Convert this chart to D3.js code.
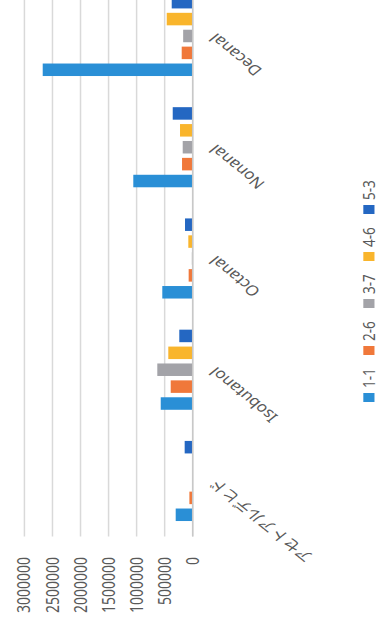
<!DOCTYPE html>
<html>
<head>
<meta charset="utf-8">
<script src="https://cdn.jsdelivr.net/npm/d3@7"></script>
<style>
  body { margin: 0; background: #fff; }
  svg { display: block; }
  text { font-family: "Noto Sans", "Noto Sans CJK JP", sans-serif; fill: #595959; }
</style>
</head>
<body>
<div class="chart"></div>
<script>
var categories = ["アセトアルデヒド", "Isobutanol", "Octanal", "Nonanal", "Decanal"];
var series = ["1-1", "2-6", "3-7", "4-6", "5-3"];
var colors = ["#2a8fd6", "#f0783a", "#a3a3a8", "#f9b52c", "#2467c2"];
// one array per series, in category order
var s11 = [303000, 570000, 542000, 1059000, 2674000];
var s26 = [59000, 392000, 72000, 190000, 196000];
var s37 = [0, 631000, 15000, 178000, 170000];
var s46 = [0, 435000, 78000, 226000, 463000];
var s53 = [143000, 239000, 137000, 356000, 374000];
var yTicks = [0, 500000, 1000000, 1500000, 2000000, 2500000, 3000000];

var values = [s11, s26, s37, s46, s53];
var W = 381, H = 637;
var stretch = 1.24; // picture is wider than it is tall

var svg = d3
    .select(".chart")
    .append("svg")
    .attr("width", W)
    .attr("height", H);

svg.append("rect").attr("width", W).attr("height", H).attr("fill", "#fff");

// chart is drawn upright, then turned on its side
var g = svg
    .append("g")
    .attr("transform", `translate(0,${H}) rotate(-90) scale(1,${stretch})`);

var x0 = d3
    .scaleBand()
    .domain(categories)
    .range([100.4, 100.4 + 111.25 * categories.length]);

var x1 = d3
    .scaleBand()
    .domain(series)
    .range([0, 84.5])
    .paddingInner(0.26)
    .paddingOuter(0.13);

var y = d3.scaleLinear().domain([0, 3000000]).range([155.4, 19.7]);

g.selectAll(".grid")
    .data(yTicks)
    .enter()
    .append("line")
    .attr("class", "grid")
    .attr("x1", x0.range()[0])
    .attr("x2", x0.range()[1])
    .attr("y1", (d) => y(d))
    .attr("y2", (d) => y(d))
    .style("stroke", "#d9d9d9")
    .style("stroke-width", "1.2px");

g.selectAll(".ylab")
    .data(yTicks)
    .enter()
    .append("text")
    .attr("class", "ylab")
    .attr("x", 80)
    .attr("y", (d) => y(d))
    .attr("dy", "0.35em")
    .attr("text-anchor", "end")
    .style("font-size", "14px")
    .text((d) => d);

var groups = g
    .selectAll(".cat")
    .data(categories)
    .enter()
    .append("g")
    .attr("class", "cat")
    .attr(
        "transform",
        (d) => `translate(${x0(d) + (x0.bandwidth() - 84.5) / 2},0)`
    );

groups
    .selectAll("rect")
    .data((d, i) => series.map((s, j) => ({ s: s, v: values[j][i], c: colors[j] })))
    .enter()
    .append("rect")
    .attr("x", (d) => x1(d.s))
    .attr("y", (d) => y(d.v))
    .attr("width", x1.bandwidth())
    .attr("height", (d) => y(0) - y(d.v))
    .style("fill", (d) => d.c);

g.append("line")
    .attr("x1", x0.range()[0])
    .attr("x2", x0.range()[1])
    .attr("y1", y(0))
    .attr("y2", y(0))
    .style("stroke", "#c8c8c8")
    .style("stroke-width", "1.2px");

g.selectAll(".xlab")
    .data(categories)
    .enter()
    .append("text")
    .attr("class", "xlab")
    .attr(
        "transform",
        (d) => `translate(${x0(d) + x0.bandwidth() / 2},${y(0) + 16}) rotate(-45)`
    )
    .attr("text-anchor", "end")
    .attr("dy", "0.35em")
    .style("font-size", "14px")
    .text((d) => d);

var legend = g
    .selectAll(".legend")
    .data(series)
    .enter()
    .append("g")
    .attr("class", "legend")
    .attr("transform", (d, i) => `translate(${235 + 47 * i},297.5)`);

legend
    .append("rect")
    .attr("x", 0)
    .attr("y", -4.5)
    .attr("width", 9)
    .attr("height", 9)
    .style("fill", (d, i) => colors[i]);

legend
    .append("text")
    .attr("x", 14)
    .attr("dy", "0.35em")
    .style("font-size", "13.5px")
    .text((d) => d);
</script>
</body>
</html>
